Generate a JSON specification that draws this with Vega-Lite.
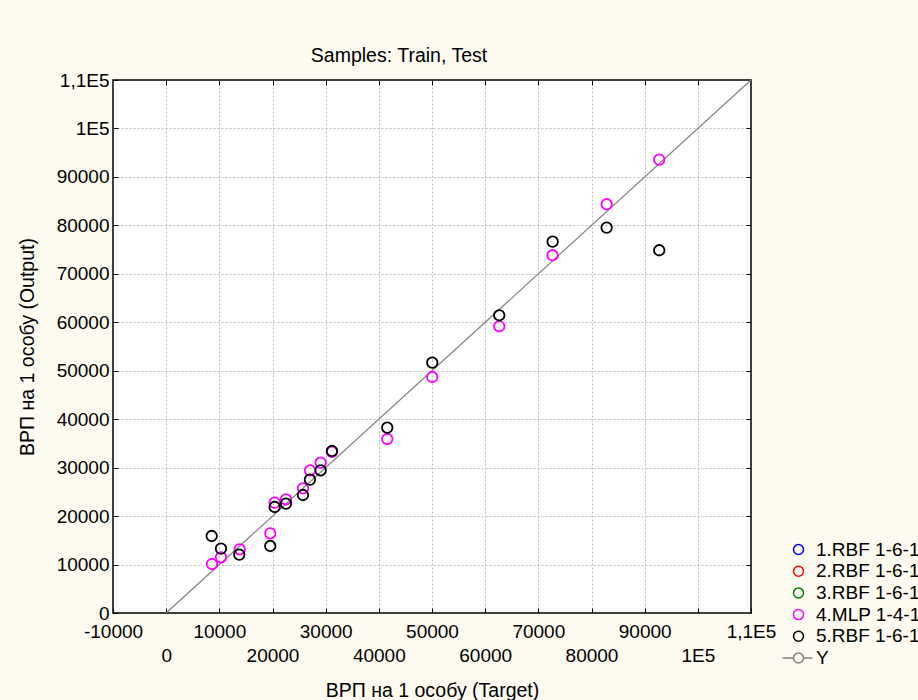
{
  "$schema": "https://vega.github.io/schema/vega-lite/v6.json",
  "width": 638,
  "height": 533,
  "autosize": {"type": "none"},
  "padding": {"left": 113, "top": 80, "right": 167, "bottom": 87},
  "background": "#fdfaf0",
  "config": {
    "view": {"fill": "white", "stroke": "black", "strokeWidth": 1.5},
    "font": "Liberation Sans",
    "axis": {
      "labelFont": "Liberation Sans",
      "labelFontSize": 19,
      "labelColor": "black",
      "titleFont": "Liberation Sans",
      "titleFontSize": 19.5,
      "titleFontWeight": "normal",
      "titleColor": "black",
      "tickColor": "black",
      "tickWidth": 1,
      "tickSize": -5,
      "domain": false,
      "labelFlush": false,
      "labelOverlap": false,
      "labelBound": false,
      "gridColor": "#bdbdbd",
      "gridDash": [2, 2],
      "gridWidth": 1
    }
  },
  "title": {
    "text": "Samples: Train, Test",
    "font": "Liberation Sans",
    "fontSize": 19.5,
    "fontWeight": "normal",
    "color": "black",
    "anchor": "middle",
    "dx": -33,
    "baseline": "alphabetic",
    "offset": -10
  },
  "datasets": {
    "yline": [
      {"series": "Y", "target": 0, "output": 0},
      {"series": "Y", "target": 110000, "output": 110000}
    ],
    "mlp": [
      {"series": "4.MLP 1-4-1", "target": 8614, "output": 10113},
      {"series": "4.MLP 1-4-1", "target": 10306, "output": 11496},
      {"series": "4.MLP 1-4-1", "target": 13824, "output": 13148},
      {"series": "4.MLP 1-4-1", "target": 19579, "output": 16450},
      {"series": "4.MLP 1-4-1", "target": 20406, "output": 22786},
      {"series": "4.MLP 1-4-1", "target": 22531, "output": 23467},
      {"series": "4.MLP 1-4-1", "target": 25729, "output": 25738},
      {"series": "4.MLP 1-4-1", "target": 27045, "output": 29453},
      {"series": "4.MLP 1-4-1", "target": 29058, "output": 31042},
      {"series": "4.MLP 1-4-1", "target": 31183, "output": 33250},
      {"series": "4.MLP 1-4-1", "target": 41584, "output": 35913},
      {"series": "4.MLP 1-4-1", "target": 50047, "output": 48710},
      {"series": "4.MLP 1-4-1", "target": 62648, "output": 59174},
      {"series": "4.MLP 1-4-1", "target": 72691, "output": 73829},
      {"series": "4.MLP 1-4-1", "target": 82847, "output": 84355},
      {"series": "4.MLP 1-4-1", "target": 92740, "output": 93581}
    ],
    "rbf": [
      {"series": "5.RBF 1-6-1", "target": 8557, "output": 15890},
      {"series": "5.RBF 1-6-1", "target": 10306, "output": 13290},
      {"series": "5.RBF 1-6-1", "target": 13748, "output": 12054},
      {"series": "5.RBF 1-6-1", "target": 19579, "output": 13829},
      {"series": "5.RBF 1-6-1", "target": 20406, "output": 21878},
      {"series": "5.RBF 1-6-1", "target": 22531, "output": 22580},
      {"series": "5.RBF 1-6-1", "target": 25729, "output": 24355},
      {"series": "5.RBF 1-6-1", "target": 27045, "output": 27534},
      {"series": "5.RBF 1-6-1", "target": 29058, "output": 29453},
      {"series": "5.RBF 1-6-1", "target": 31183, "output": 33437},
      {"series": "5.RBF 1-6-1", "target": 41584, "output": 38266},
      {"series": "5.RBF 1-6-1", "target": 50047, "output": 51682},
      {"series": "5.RBF 1-6-1", "target": 62648, "output": 61445},
      {"series": "5.RBF 1-6-1", "target": 72691, "output": 76656},
      {"series": "5.RBF 1-6-1", "target": 82847, "output": 79546},
      {"series": "5.RBF 1-6-1", "target": 92740, "output": 74861}
    ]
  },
  "layer": [
    {
      "data": {"name": "yline"},
      "mark": {"type": "line", "color": "#808080", "strokeWidth": 1.2},
      "encoding": {
        "x": {
          "field": "target", "type": "quantitative",
          "scale": {"domain": [-10000, 110000], "nice": false, "zero": false},
          "axis": {
            "orient": "bottom",
            "values": [-10000, 10000, 30000, 50000, 70000, 90000, 110000],
            "labelExpr": "datum.value == 110000 ? '1,1E5' : '' + datum.value",
            "grid": false,
            "labelPadding": 14,
            "title": "ВРП на 1 особу (Target)",
            "titleY": 83,
            "titleBaseline": "alphabetic"
          }
        },
        "y": {
          "field": "output", "type": "quantitative",
          "scale": {"domain": [0, 110000], "nice": false, "zero": false},
          "axis": {
            "orient": "left",
            "values": [0, 10000, 20000, 30000, 40000, 50000, 60000, 70000, 80000, 90000, 100000, 110000],
            "labelExpr": "datum.value == 110000 ? '1,1E5' : datum.value == 100000 ? '1E5' : '' + datum.value",
            "grid": false,
            "labelPadding": 9,
            "title": "ВРП на 1 особу (Output)",
            "titleX": -86,
            "titleBaseline": "middle"
          }
        }
      }
    },
    {
      "data": {"name": "mlp"},
      "mark": {"type": "point", "filled": false, "size": 110, "strokeWidth": 1.8, "opacity": 1},
      "encoding": {
        "x": {
          "field": "target", "type": "quantitative",
          "axis": {
            "orient": "bottom",
            "values": [0, 20000, 40000, 60000, 80000, 100000],
            "labelExpr": "datum.value == 100000 ? '1E5' : '' + datum.value",
            "grid": false,
            "labelPadding": 38,
            "title": null
          }
        },
        "y": {
          "field": "output", "type": "quantitative",
          "axis": {
            "orient": "right",
            "values": [10000, 20000, 30000, 40000, 50000, 60000, 70000, 80000, 90000, 100000],
            "labels": false,
            "grid": true,
            "title": null
          }
        },
        "color": {
          "field": "series", "type": "nominal",
          "scale": {
            "domain": ["1.RBF 1-6-1", "2.RBF 1-6-1", "3.RBF 1-6-1", "4.MLP 1-4-1", "5.RBF 1-6-1", "Y"],
            "range": ["#0000ff", "#ff0000", "#008000", "#ff00ff", "#000000", "#808080"]
          },
          "legend": {
            "orient": "none", "legendX": 676, "legendY": 460, "title": null,
            "labelFont": "Liberation Sans", "labelFontSize": 19, "labelColor": "black",
            "symbolSize": 100, "symbolStrokeWidth": 1.5, "labelOffset": 8,
            "rowPadding": 1.7, "padding": 0, "labelLimit": 0
          }
        },
        "shape": {
          "field": "series", "type": "nominal",
          "scale": {
            "domain": ["1.RBF 1-6-1", "2.RBF 1-6-1", "3.RBF 1-6-1", "4.MLP 1-4-1", "5.RBF 1-6-1", "Y"],
            "range": ["circle", "circle", "circle", "circle", "circle", "M-3.2,0L-1,0M1,0L2.8,0M-1,0A1,1,0,1,1,1,0A1,1,0,1,1,-1,0"]
          },
          "legend": {
            "orient": "none", "legendX": 676, "legendY": 460, "title": null,
            "labelFont": "Liberation Sans", "labelFontSize": 19, "labelColor": "black",
            "symbolSize": 100, "symbolStrokeWidth": 1.5, "labelOffset": 8,
            "rowPadding": 1.7, "padding": 0, "labelLimit": 0
          }
        }
      }
    },
    {
      "data": {"name": "rbf"},
      "mark": {"type": "point", "filled": false, "size": 110, "strokeWidth": 1.8, "opacity": 1},
      "encoding": {
        "x": {
          "field": "target", "type": "quantitative",
          "axis": {
            "orient": "top",
            "values": [0, 10000, 20000, 30000, 40000, 50000, 60000, 70000, 80000, 90000, 100000],
            "labels": false,
            "grid": true,
            "title": null
          }
        },
        "y": {"field": "output", "type": "quantitative", "axis": null},
        "color": {"field": "series", "type": "nominal"},
        "shape": {"field": "series", "type": "nominal"}
      }
    }
  ],
  "resolve": {"axis": {"x": "independent", "y": "independent"}}
}
